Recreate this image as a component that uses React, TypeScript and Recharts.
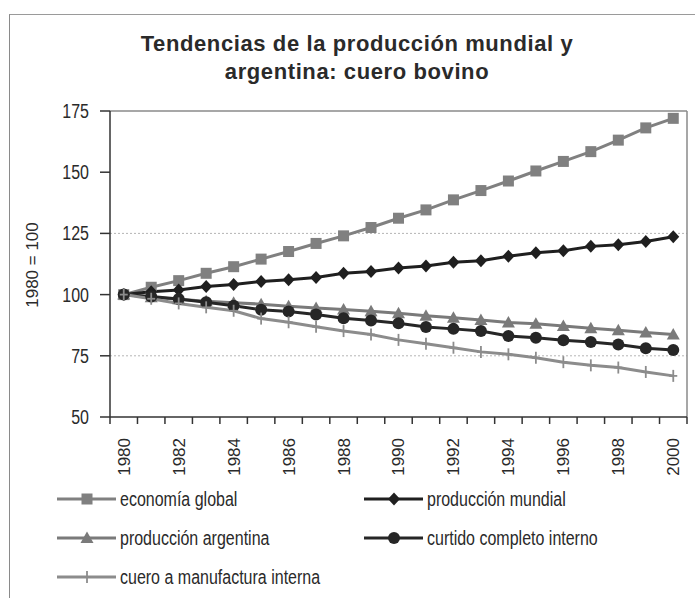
import { CartesianGrid, Line, LineChart, ReferenceLine, XAxis, YAxis } from "recharts";

const years = [
  1980, 1981, 1982, 1983, 1984, 1985, 1986, 1987, 1988, 1989, 1990, 1991, 1992, 1993, 1994, 1995,
  1996, 1997, 1998, 1999, 2000,
];
const labelYears = [1980, 1982, 1984, 1986, 1988, 1990, 1992, 1994, 1996, 1998, 2000];
const yTicks = [50, 75, 100, 125, 150, 175];

const economiaGlobal = [
  100, 103, 105.7, 108.7, 111.4, 114.5, 117.6, 120.9, 124, 127.4, 131.2, 134.6, 138.7, 142.5, 146.4,
  150.5, 154.4, 158.4, 163.1, 168.1, 172,
];
const produccionMundial = [
  100, 101.2, 101.9, 103.3, 104.1, 105.4, 106.1, 107, 108.7, 109.4, 110.9, 111.7, 113.2, 113.8, 115.7,
  117.1, 117.9, 119.7, 120.4, 121.7, 123.6,
];
const produccionArgentina = [
  100, 98.9, 98.1, 97.3, 96.7, 96.1, 95.2, 94.5, 93.9, 93.2, 92.4, 91.4, 90.5, 89.6, 88.6, 88.1, 87.2,
  86.3, 85.4, 84.5, 83.7,
];
const curtidoCompleto = [
  100, 99.2, 98.2, 96.9, 95.4, 93.8, 93.1, 91.9, 90.3, 89.4, 88.3, 86.8, 86, 85.1, 83.1, 82.4, 81.4,
  80.6, 79.6, 78.1, 77.4,
];
const cueroManufactura = [
  100, 98.3, 96.4, 94.8, 93.4, 90.2, 88.7, 86.9, 85.1, 83.7, 81.5, 79.9, 78.3, 76.6, 75.6, 74.2, 72.4,
  71.1, 70.2, 68.4, 66.8,
];

const data = years.map((year, i) => ({
  year,
  economia: economiaGlobal[i],
  mundial: produccionMundial[i],
  argentina: produccionArgentina[i],
  curtido: curtidoCompleto[i],
  cuero: cueroManufactura[i],
}));

// category boundaries carry the tick marks, even years carry the labels
const xTicks = [...years.map((y) => y - 0.5), 2000.5, ...labelYears];

const SANS = "'Liberation Sans', Arial, sans-serif";
// no Arial Narrow here, so squeeze the regular face for horizontal text
const NARROW_X = 0.8;
const TEXT = "#2a2a2a";

type Shape = "square" | "diamond" | "triangle" | "circle" | "plus";

function Marker({ cx, cy, shape, color }: { cx: number; cy: number; shape: Shape; color: string }) {
  if (cx == null || cy == null) return null;
  switch (shape) {
    case "square":
      return <rect x={cx - 5.5} y={cy - 5.5} width={11} height={11} fill={color} />;
    case "diamond":
      return <polygon points={`${cx},${cy - 6.5} ${cx + 6},${cy} ${cx},${cy + 6.5} ${cx - 6},${cy}`} fill={color} />;
    case "triangle":
      return <polygon points={`${cx},${cy - 6.5} ${cx + 6.5},${cy + 5} ${cx - 6.5},${cy + 5}`} fill={color} />;
    case "circle":
      return <circle cx={cx} cy={cy} r={6} fill={color} />;
    default:
      return (
        <g stroke={color} strokeWidth={1.8}>
          <line x1={cx} x2={cx} y1={cy - 6} y2={cy + 6} />
          <line x1={cx - 4} x2={cx + 4} y1={cy} y2={cy} />
        </g>
      );
  }
}

const series: { key: string; name: string; color: string; shape: Shape }[] = [
  { key: "economia", name: "economía global", color: "#808080", shape: "square" },
  { key: "mundial", name: "producción mundial", color: "#1f1f1f", shape: "diamond" },
  { key: "argentina", name: "producción argentina", color: "#7a7a7a", shape: "triangle" },
  { key: "curtido", name: "curtido completo interno", color: "#262626", shape: "circle" },
  { key: "cuero", name: "cuero a manufactura interna", color: "#8c8c8c", shape: "plus" },
];

function NarrowText({
  x,
  y,
  angle = 0,
  anchor = "start",
  size = 20,
  squeeze = NARROW_X,
  children,
}: {
  x: number;
  y: number;
  angle?: number;
  anchor?: "start" | "middle" | "end";
  size?: number;
  squeeze?: number;
  children: any;
}) {
  return (
    <text
      transform={`translate(${x} ${y}) rotate(${angle}) scale(${squeeze} 1)`}
      textAnchor={anchor}
      dy="0.35em"
      fontFamily={SANS}
      fontSize={size}
      fill={TEXT}
    >
      {children}
    </text>
  );
}

function XTick(props: any) {
  const { x, y, payload } = props;
  const v = payload.value;
  if (!Number.isInteger(v)) {
    return <line x1={x} x2={x} y1={y} y2={y + 7} stroke="#333" strokeWidth={1.5} />;
  }
  return (
    <NarrowText x={x} y={y + 21} angle={-90} anchor="end" size={17} squeeze={1}>
      {v}
    </NarrowText>
  );
}

function YTick(props: any) {
  const { x, y, payload } = props;
  return (
    <NarrowText x={x} y={y} anchor="end">
      {payload.value}
    </NarrowText>
  );
}

function LegendBox() {
  const cols = [57, 364];
  const rows = [499, 538, 577];
  return (
    <svg width={695} height={598} style={{ position: "absolute", left: 0, top: 0, pointerEvents: "none" }}>
      {series.map((s, i) => {
        const x = cols[i % 2];
        const y = rows[Math.floor(i / 2)];
        return (
          <g key={s.key}>
            <line x1={x} x2={x + 59} y1={y} y2={y} stroke={s.color} strokeWidth={3} />
            <Marker cx={x + 30} cy={y} shape={s.shape} color={s.color} />
            <NarrowText x={x + 63} y={y}>
              {s.name}
            </NarrowText>
          </g>
        );
      })}
      <NarrowText x={32} y={265} angle={-90} anchor="middle" size={17} squeeze={1}>
        1980 = 100
      </NarrowText>
    </svg>
  );
}

export default function App() {
  return (
    <div style={{ position: "absolute", left: 0, top: 0, width: 695, height: 598, background: "#fff", overflow: "hidden" }}>
      <div style={{ position: "absolute", left: 9, top: 14, width: 700, height: 600, borderLeft: "1.5px solid #8a8a8a", borderTop: "1.5px solid #9a9a9a" }} />
      <div
        style={{
          position: "absolute",
          left: 0,
          top: 30,
          width: 714,
          textAlign: "center",
          fontFamily: SANS,
          fontWeight: "bold",
          fontSize: 22,
          lineHeight: "28px",
          letterSpacing: 0.6,
          color: TEXT,
        }}
      >
        Tendencias de la producción mundial y
        <br />
        argentina: cuero bovino
      </div>
      <div style={{ position: "absolute", left: 0, top: 0 }}>
        <LineChart width={695} height={598} data={data} margin={{ top: 111, right: 8, bottom: 121, left: 0 }}>
          <CartesianGrid horizontal vertical={false} horizontalValues={[75, 125]} stroke="#b5b5b5" strokeDasharray="2 2" />
          <ReferenceLine y={175} stroke="#8a8a8a" strokeWidth={1.5} />
          <ReferenceLine x={2000.5} stroke="#8a8a8a" strokeWidth={1.5} />
          <XAxis
            dataKey="year"
            type="number"
            domain={[1979.5, 2000.5]}
            ticks={xTicks}
            interval={0}
            height={60}
            tickLine={false}
            tickSize={0}
            tickMargin={0}
            tick={XTick}
            axisLine={{ stroke: "#333", strokeWidth: 1.5 }}
          />
          <YAxis
            domain={[50, 175]}
            ticks={yTicks}
            interval={0}
            width={110}
            tickSize={10}
            tickMargin={11}
            tickLine={{ stroke: "#333", strokeWidth: 1.5 }}
            axisLine={{ stroke: "#333", strokeWidth: 1.5 }}
            tick={YTick}
          />
          {series.map((s) => (
            <Line
              key={s.key}
              type="linear"
              dataKey={s.key}
              name={s.name}
              stroke={s.color}
              strokeWidth={3}
              dot={(p: any) => <Marker key={`${s.key}-${p.index}`} cx={p.cx} cy={p.cy} shape={s.shape} color={s.color} />}
              activeDot={false}
              isAnimationActive={false}
            />
          ))}
        </LineChart>
      </div>
      <LegendBox />
    </div>
  );
}
